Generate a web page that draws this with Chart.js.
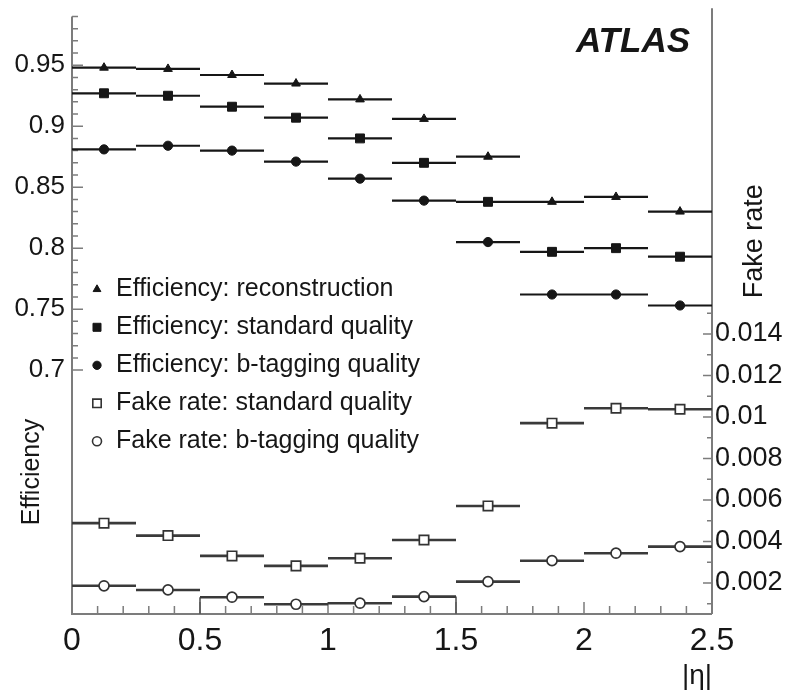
<!DOCTYPE html>
<html>
<head>
<meta charset="utf-8">
<script src="https://cdn.jsdelivr.net/npm/chart.js@4.4.0/dist/chart.umd.min.js"></script>
<style>
  html, body { margin: 0; padding: 0; background: #fff; }
  #wrap { width: 792px; height: 693px; }
</style>
</head>
<body>
<div id="wrap"><canvas id="effChart" width="792" height="693"></canvas></div>
<script>
// |eta| bins, 0.25 wide
const binEdges = [0, 0.25, 0.5, 0.75, 1.0, 1.25, 1.5, 1.75, 2.0, 2.25, 2.5];

// efficiencies (left axis)
const effReco = [0.948, 0.947, 0.942, 0.935, 0.922, 0.906, 0.875, 0.838, 0.842, 0.830];
const effStd  = [0.927, 0.925, 0.916, 0.907, 0.890, 0.870, 0.838, 0.797, 0.800, 0.793];
const effBtag = [0.881, 0.884, 0.880, 0.871, 0.857, 0.839, 0.805, 0.762, 0.762, 0.753];

// fake rates (right axis)
const fakeStd  = [0.00488, 0.00428, 0.00330, 0.00282, 0.00319, 0.00407, 0.00571, 0.00970, 0.01042, 0.01037];
const fakeBtag = [0.00186, 0.00166, 0.00131, 0.00097, 0.00102, 0.00134, 0.00206, 0.00307, 0.00343, 0.00375];

// bins of the b-tag fake histogram whose outer edge is drawn down to the axis
const fakeBtagEdges = [{ edge: 0.5, bin: 2 }, { edge: 1.5, bin: 5 }];

const legendLabels = [
  'Efficiency: reconstruction',
  'Efficiency: standard quality',
  'Efficiency: b-tagging quality',
  'Fake rate: standard quality',
  'Fake rate: b-tagging quality'
];

const etaTicks  = [0, 0.5, 1, 1.5, 2, 2.5];
const effTicks  = [0.7, 0.75, 0.8, 0.85, 0.9, 0.95];
const fakeTicks = [0.002, 0.004, 0.006, 0.008, 0.01, 0.012, 0.014];

const effRange  = [0.5, 0.9967];
const effAxisTop = 0.99;
const fakeRange = [0.0005, 0.0297];

const FONT = '"Liberation Sans", Arial, Helvetica, sans-serif';
const INK = '#161616';
const AXIS = '#7c7c7c';

Chart.defaults.font.family = FONT;
Chart.defaults.color = INK;

// one horizontal segment per bin, broken between bins
function binSegments(values) {
  const pts = [];
  values.forEach((v, i) => {
    pts.push({ x: binEdges[i], y: v }, { x: binEdges[i + 1], y: v }, { x: binEdges[i + 1], y: null });
  });
  return pts;
}
function binCentres(values) {
  return values.map((v, i) => ({ x: (binEdges[i] + binEdges[i + 1]) / 2, y: v }));
}

const series = [
  { values: effReco,  axis: 'y',  style: 'triangle', radius: 5.0, fill: INK,    stroke: INK,    line: INK,    width: 2.2 },
  { values: effStd,   axis: 'y',  style: 'rect',     radius: 6.3, fill: INK,    stroke: INK,    line: INK,    width: 2.2 },
  { values: effBtag,  axis: 'y',  style: 'circle',   radius: 4.6, fill: INK,    stroke: INK,    line: INK,    width: 2.2 },
  { values: fakeStd,  axis: 'y2', style: 'rect',     radius: 6.6, fill: '#fff', stroke: '#333', line: '#3a3a3a', width: 2.6 },
  { values: fakeBtag, axis: 'y2', style: 'circle',   radius: 5.0, fill: '#fff', stroke: '#333', line: '#3a3a3a', width: 2.6 }
];

const datasets = [];
series.forEach((s, i) => {
  datasets.push({
    type: 'line',
    label: legendLabels[i] + ' (bins)',
    data: binSegments(s.values),
    yAxisID: s.axis,
    borderColor: s.line,
    borderWidth: s.width,
    pointRadius: 0,
    spanGaps: false,
    tension: 0,
    fill: false,
    order: 2
  });
  datasets.push({
    type: 'line',
    label: legendLabels[i],
    data: binCentres(s.values),
    yAxisID: s.axis,
    showLine: false,
    pointStyle: s.style,
    pointRadius: s.radius,
    pointBackgroundColor: s.fill,
    pointBorderColor: s.stroke,
    pointBorderWidth: s.fill === '#fff' ? 1.7 : 1,
    order: 0
  });
});

const edgeData = [];
fakeBtagEdges.forEach(e => {
  edgeData.push({ x: e.edge, y: fakeRange[0] }, { x: e.edge, y: fakeBtag[e.bin] }, { x: e.edge, y: null });
});
datasets.push({
  type: 'line', label: 'edges', data: edgeData, yAxisID: 'y2',
  borderColor: '#555', borderWidth: 1.6, pointRadius: 0, spanGaps: false, order: 3
});

function pinScale(size) {
  return (scale) => {
    if (scale.isHorizontal()) scale.height = size; else scale.width = size;
    scale.paddingTop = 0; scale.paddingBottom = 0;
    scale.paddingLeft = 0; scale.paddingRight = 0;
  };
}

// ROOT-style frame: axis lines with inward ticks
const frame = {
  id: 'rootFrame',
  beforeDatasetsDraw(chart) {
    const { ctx, chartArea: a, scales: { x, y, y2 } } = chart;
    ctx.save();
    ctx.strokeStyle = AXIS;
    ctx.lineWidth = 2;
    ctx.beginPath();
    ctx.moveTo(a.left, y.getPixelForValue(effAxisTop));
    ctx.lineTo(a.left, a.bottom);
    ctx.lineTo(a.right, a.bottom);
    ctx.moveTo(a.right, a.top);
    ctx.lineTo(a.right, a.bottom);
    ctx.stroke();

    ctx.lineWidth = 1.5;
    ctx.beginPath();
    for (let k = 70; k <= 99; k++) {
      const v = k / 100;
      const len = k % 5 === 0 ? 11 : 6;
      const py = y.getPixelForValue(v);
      ctx.moveTo(a.left, py); ctx.lineTo(a.left + len, py);
    }
    for (let k = 1; k <= 15; k++) {
      const v = k / 1000;
      const len = k % 2 === 0 ? 9 : 5;
      const py = y2.getPixelForValue(v);
      ctx.moveTo(a.right, py); ctx.lineTo(a.right - len, py);
    }
    for (let k = 1; k < 25; k++) {
      const v = k / 10;
      const len = k % 5 === 0 ? 12 : 8;
      const px = x.getPixelForValue(v);
      ctx.moveTo(px, a.bottom); ctx.lineTo(px, a.bottom - len);
    }
    ctx.stroke();
    ctx.restore();
  },
  afterDraw(chart) {
    const { ctx, chartArea: a } = chart;
    ctx.save();
    ctx.fillStyle = INK;

    // axis titles
    ctx.textAlign = 'center';
    ctx.textBaseline = 'middle';
    ctx.save();
    ctx.translate(32, a.bottom - 142);
    ctx.rotate(-Math.PI / 2);
    ctx.font = '25px ' + FONT;
    ctx.fillText('Efficiency', 0, 0);
    ctx.restore();

    ctx.save();
    ctx.translate(a.right + 43, a.top + 233);
    ctx.rotate(-Math.PI / 2);
    ctx.font = '27px ' + FONT;
    ctx.fillText('Fake rate', 0, 0);
    ctx.restore();

    ctx.textAlign = 'right';
    ctx.textBaseline = 'alphabetic';
    ctx.font = '28px ' + FONT;
    ctx.fillText('|\u03b7|', a.right, 684);

    ctx.font = 'italic bold 35px ' + FONT;
    ctx.fillText('ATLAS', a.right - 22, a.top + 44);

    // legend
    ctx.textAlign = 'left';
    ctx.textBaseline = 'middle';
    ctx.font = '25px ' + FONT;
    series.forEach((s, i) => {
      const ly = a.top + 281 + i * 38;
      ctx.fillStyle = s.fill;
      ctx.strokeStyle = s.stroke;
      ctx.lineWidth = s.fill === '#fff' ? 1.6 : 1;
      Chart.helpers.drawPoint(ctx, {
        pointStyle: s.style, radius: s.radius * 0.9, rotation: 0,
        borderWidth: ctx.lineWidth
      }, a.left + 25, ly);
      ctx.fillStyle = INK;
      ctx.fillText(legendLabels[i], a.left + 44, ly);
    });
    ctx.restore();
  }
};

new Chart(document.getElementById('effChart'), {
  data: { datasets },
  options: {
    responsive: false,
    animation: false,
    layout: { padding: { top: 8, left: 0, right: 0, bottom: 0 } },
    plugins: { legend: { display: false }, tooltip: { enabled: false } },
    scales: {
      x: {
        type: 'linear', min: 0, max: 2.5,
        grid: { display: false, drawTicks: false }, border: { display: false },
        afterBuildTicks: (s) => { s.ticks = etaTicks.map(v => ({ value: v })); },
        afterFit: pinScale(79),
        ticks: { autoSkip: false, maxRotation: 0, padding: 8, font: { size: 32 }, color: INK,
                 callback: (v) => String(v) }
      },
      y: {
        type: 'linear', position: 'left', min: effRange[0], max: effRange[1],
        grid: { display: false, drawTicks: false }, border: { display: false },
        afterBuildTicks: (s) => { s.ticks = effTicks.map(v => ({ value: v })); },
        afterFit: pinScale(72),
        ticks: { autoSkip: false, padding: 7, font: { size: 26 }, color: INK,
                 callback: (v) => String(v) }
      },
      y2: {
        type: 'linear', position: 'right', min: fakeRange[0], max: fakeRange[1],
        grid: { display: false, drawTicks: false }, border: { display: false },
        afterBuildTicks: (s) => { s.ticks = fakeTicks.map(v => ({ value: v })); },
        afterFit: pinScale(80),
        ticks: { autoSkip: false, padding: 3, font: { size: 27 }, color: INK,
                 callback: (v) => String(v) }
      }
    }
  },
  plugins: [frame]
});
</script>
</body>
</html>
